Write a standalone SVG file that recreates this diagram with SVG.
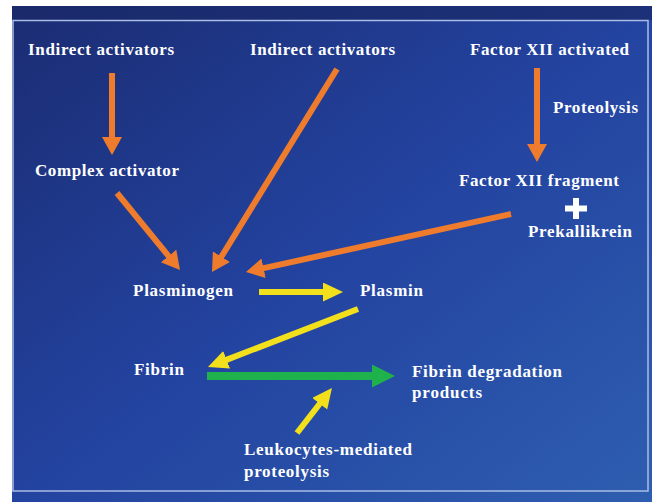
<svg xmlns="http://www.w3.org/2000/svg" width="654" height="502" viewBox="0 0 654 502">
  <style>
    .lbl { font-family: "Liberation Serif", "Times New Roman", serif; font-weight: bold; font-size: 17px; fill: #ffffff; }
    .or { stroke: #ef7c2c; stroke-width: 6; fill: none; }
    .ye { stroke: #f3e01c; stroke-width: 6; fill: none; }
    .gr { stroke: #1fb14b; stroke-width: 8; fill: none; }
  </style>
  <defs>
    <linearGradient id="bg" x1="0" y1="0" x2="1" y2="1">
      <stop offset="0" stop-color="#1b2c72"/>
      <stop offset="0.5" stop-color="#2343a0"/>
      <stop offset="1" stop-color="#2e5eb0"/>
    </linearGradient>
    <marker id="hOr" markerUnits="userSpaceOnUse" markerWidth="20" markerHeight="22" refX="1" refY="10" orient="auto">
      <path d="M0,0 L18,10 L0,20 z" fill="#ef7c2c"/>
    </marker>
    <marker id="hYe" markerUnits="userSpaceOnUse" markerWidth="22" markerHeight="21" refX="1" refY="9.5" orient="auto">
      <path d="M0,0 L20,9.5 L0,19 z" fill="#f3e01c"/>
    </marker>
    <marker id="hGr" markerUnits="userSpaceOnUse" markerWidth="25" markerHeight="25" refX="1" refY="11.5" orient="auto">
      <path d="M0,0 L23,11.5 L0,23 z" fill="#1fb14b"/>
    </marker>
  </defs>

  <rect x="0" y="0" width="654" height="502" fill="#ffffff"/>
  <rect x="12" y="6" width="640" height="496" fill="url(#bg)"/>
  <rect x="12" y="6" width="640" height="14" fill="#1a2968" opacity="0.7"/>
  <rect x="13" y="20.5" width="635" height="470.5" fill="none" stroke="#a9bde6" stroke-width="1.5"/>

  <g id="connectors">
    <line class="or" x1="112" y1="73" x2="112" y2="138" marker-end="url(#hOr)"/>
    <line class="or" x1="117" y1="193" x2="169.2" y2="256.8" marker-end="url(#hOr)"/>
    <line class="or" x1="337" y1="69" x2="220.9" y2="257.5" marker-end="url(#hOr)"/>
    <line class="or" x1="537" y1="68" x2="537" y2="145" marker-end="url(#hOr)"/>
    <line class="or" x1="511" y1="214" x2="262.6" y2="268.4" marker-end="url(#hOr)"/>
    <line class="ye" x1="259" y1="292" x2="324" y2="292" marker-end="url(#hYe)"/>
    <line class="ye" x1="358" y1="309" x2="225.7" y2="360.1" marker-end="url(#hYe)"/>
    <line class="gr" x1="207" y1="376" x2="373" y2="376" marker-end="url(#hGr)"/>
    <line class="ye" x1="297" y1="433" x2="320.3" y2="403" marker-end="url(#hYe)"/>
    <g id="plus" fill="#ffffff">
      <rect x="565" y="205.5" width="22" height="6"/>
      <rect x="573" y="198" width="6" height="21"/>
    </g>
  </g>

  <g id="indirect1"><text class="lbl" x="28" y="55" textLength="146" lengthAdjust="spacing">Indirect activators</text></g>
  <g id="indirect2"><text class="lbl" x="250" y="55" textLength="145" lengthAdjust="spacing">Indirect activators</text></g>
  <g id="factorXIIa"><text class="lbl" x="470" y="55" textLength="159" lengthAdjust="spacing">Factor XII activated</text></g>
  <g id="proteolysis"><text class="lbl" x="553" y="113" textLength="85" lengthAdjust="spacing">Proteolysis</text></g>
  <g id="complex"><text class="lbl" x="35" y="176" textLength="144" lengthAdjust="spacing">Complex activator</text></g>
  <g id="factorXIIfrag"><text class="lbl" x="459" y="186" textLength="160" lengthAdjust="spacing">Factor XII fragment</text></g>
  <g id="prekallikrein"><text class="lbl" x="528" y="237" textLength="104" lengthAdjust="spacing">Prekallikrein</text></g>
  <g id="plasminogen"><text class="lbl" x="133" y="296" textLength="100" lengthAdjust="spacing">Plasminogen</text></g>
  <g id="plasmin"><text class="lbl" x="360" y="296" textLength="63" lengthAdjust="spacing">Plasmin</text></g>
  <g id="fibrin"><text class="lbl" x="134" y="375" textLength="50" lengthAdjust="spacing">Fibrin</text></g>
  <g id="fdp">
    <text class="lbl" x="412" y="377" textLength="150" lengthAdjust="spacing">Fibrin degradation</text>
    <text class="lbl" x="412" y="398" textLength="70" lengthAdjust="spacing">products</text>
  </g>
  <g id="leukocytes">
    <text class="lbl" x="244" y="455" textLength="168" lengthAdjust="spacing">Leukocytes-mediated</text>
    <text class="lbl" x="244" y="477" textLength="85" lengthAdjust="spacing">proteolysis</text>
  </g>
</svg>
